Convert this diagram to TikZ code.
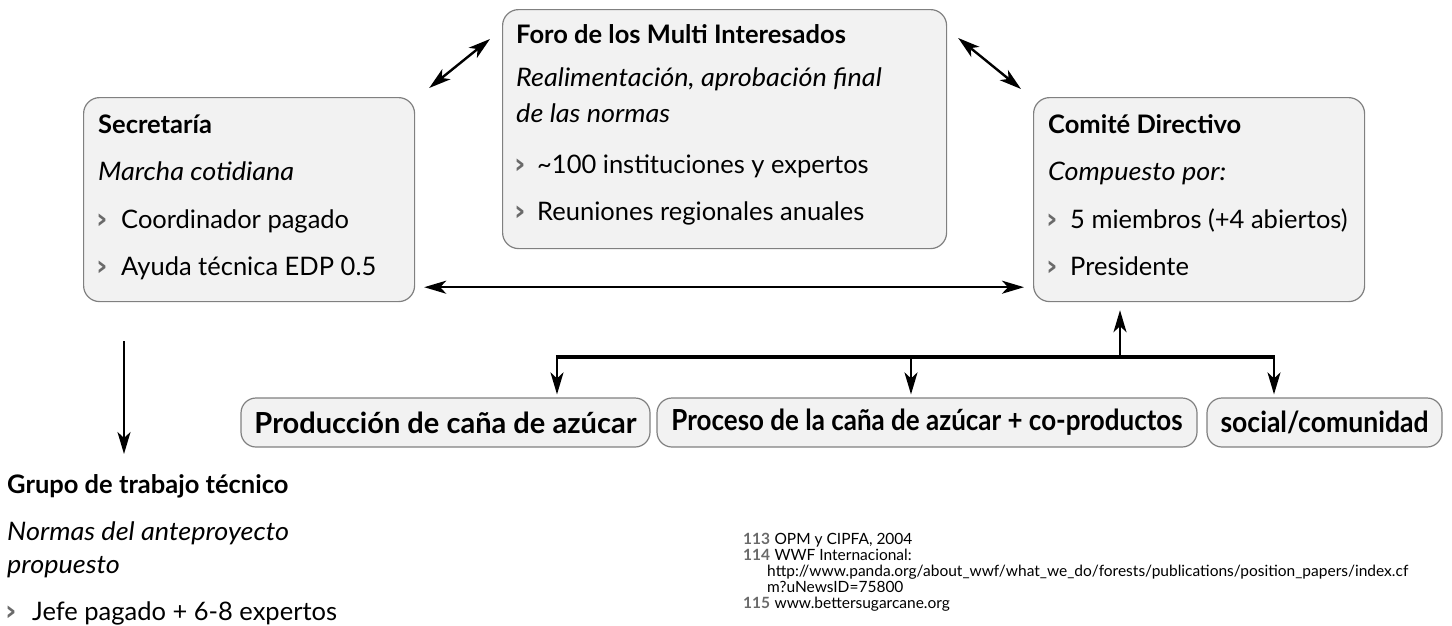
\documentclass[tikz,border=0pt]{standalone}
\usepackage{fontspec}
\setmainfont{Lato}[ItalicFeatures={FakeStretch=1.06}]
\newfontfamily\bulfont{DejaVu Sans}
\usetikzlibrary{arrows.meta}
\definecolor{boxfill}{HTML}{F2F2F2}
\definecolor{boxline}{HTML}{808080}
\definecolor{bulgray}{HTML}{6A6A6A}
\newcommand\mainsz{\fontsize{25.5}{30}\selectfont}
\newcommand\footsz{\fontsize{15.5}{18}\selectfont}
\begin{document}
\begin{tikzpicture}[x=1pt,y=-1pt,
  box/.style={draw=boxline, fill=boxfill, line width=1.2pt, rounded corners=16pt, anchor=north west, inner sep=0pt},
  pbox/.style={draw=boxline, fill=boxfill, line width=1.2pt, rounded corners=15pt, inner sep=0pt, minimum height=49, font=\fontsize{29}{32}\selectfont\bfseries},
  ttl/.style={anchor=base west, inner sep=0pt, font=\mainsz\bfseries},
  ital/.style={anchor=base west, inner sep=0pt, font=\mainsz\itshape},
  itm/.style={anchor=base west, inner sep=0pt, font=\mainsz},
  bul/.style={anchor=base west, inner sep=0pt, font=\fontsize{28}{30}\selectfont\bulfont\bfseries, text=bulgray},
  foot/.style={anchor=base west, inner sep=0pt, font=\footsz},
  fnum/.style={anchor=base west, inner sep=0pt, font=\footsz\bfseries, text=bulgray},
  arr/.style={line width=2.4pt, -{Stealth[length=22pt,width=13pt,inset=6pt]}},
  darr/.style={line width=2.4pt, {Stealth[length=22pt,width=13pt,inset=6pt]}-{Stealth[length=22pt,width=13pt,inset=6pt]}},
]
\useasboundingbox (0,0) rectangle (1452,625);

% Secretaria
\node[box, minimum width=331, minimum height=204] (sec) at (83,97) {};
\node[ttl] (secT) at (98,133) {Secretaría};
\node[ital] (secI) at (98,180) {Marcha cotidiana};
\node[bul] (secB1) at (96,228) {›};
\node[itm] (secL1) at (121,228) {Coordinador pagado};
\node[bul] (secB2) at (96,275) {›};
\node[itm] (secL2) at (121,275) {Ayuda técnica EDP 0.5};

% Foro
\node[box, minimum width=444, minimum height=239] (foro) at (502,9) {};
\node[ttl] (foroT) at (516,43) {Foro de los Multi Interesados};
\node[ital] (foroI1) at (516,86) {Realimentación, aprobación final};
\node[ital] (foroI2) at (516,122) {de las normas};
\node[bul] (foroB1) at (514,173) {›};
\node[itm] (foroL1) at (537,173) {\textasciitilde100 instituciones y expertos};
\node[bul] (foroB2) at (514,220) {›};
\node[itm] (foroL2) at (537,220) {Reuniones regionales anuales};

% Comite
\node[box, minimum width=331, minimum height=204] (com) at (1033,97) {};
\node[ttl] (comT) at (1048,133) {Comité Directivo};
\node[ital] (comI) at (1048,180) {Compuesto por:};
\node[bul] (comB1) at (1046,228) {›};
\node[itm] (comL1) at (1070,228) {5 miembros (+4 abiertos)};
\node[bul] (comB2) at (1046,275) {›};
\node[itm] (comL2) at (1070,275) {Presidente};

% bottom boxes
\node[pbox, minimum width=409] (p1) at (445.5,422.5) {\resizebox{382pt}{\height}{Producción de caña de azúcar}};
\node[pbox, minimum width=540] (p2) at (927,422.5) {\resizebox{511pt}{\height}{Proceso de la caña de azúcar + co-productos}};
\node[pbox, minimum width=235] (p3) at (1324.5,422.5) {\resizebox{208pt}{\height}{social/comunidad}};

% Grupo de trabajo
\node[ttl] (grpT) at (7,493) {Grupo de trabajo técnico};
\node[ital] (grpI1) at (7,540) {Normas del anteproyecto};
\node[ital] (grpI2) at (7,573) {propuesto};
\node[bul] (grpB1) at (5,620) {›};
\node[itm] (grpL1) at (32,620) {Jefe pagado + 6-8 expertos};
\coordinate (grpin) at (124,454);

% footnotes
\node[fnum] (f1n) at (743,544) {113};
\node[foot] (f1) at ([xshift=4pt]f1n.base east) {OPM y CIPFA, 2004};
\node[fnum] (f2n) at (743,560) {114};
\node[foot] (f2) at ([xshift=4pt]f2n.base east) {WWF Internacional:};
\node[foot] (f3) at (767,576) {http://www.panda.org/about\_wwf/what\_we\_do/forests/publications/position\_papers/index.cf};
\node[foot] (f4) at (767,592) {m?uNewsID=75800};
\node[fnum] (f5n) at (743,608) {115};
\node[foot] (f5) at ([xshift=4pt]f5n.base east) {www.bettersugarcane.org};

% connectors
\draw[darr] ([shift={(14,-9)}]sec.north east) -- ([shift={(-12,30)}]foro.north west);
\draw[darr] ([shift={(11,29)}]foro.north east) -- ([shift={(-12,-8)}]com.north west);
\draw[darr] ([shift={(9,-15)}]sec.south east) -- ([shift={(-9,-15)}]com.south west);
\draw[arr] ([shift={(41,39)}]sec.south west) -- (grpin);

\coordinate (busL) at (557,357);
\coordinate (busM) at (911,357);
\coordinate (busU) at (1120,357);
\coordinate (busR) at (1274,357);
\draw[line width=3.2pt] ([xshift=-1.2pt]busL) -- ([xshift=1.2pt]busR);
\draw[arr] (busU) -- ([shift={(87,8)}]com.south west);
\draw[arr, shorten >=3pt] (busL) -- (busL |- p1.north);
\draw[arr, shorten >=3pt] (busM) -- (busM |- p2.north);
\draw[arr, shorten >=3pt] (busR) -- (busR |- p3.north);
\end{tikzpicture}
\end{document}
